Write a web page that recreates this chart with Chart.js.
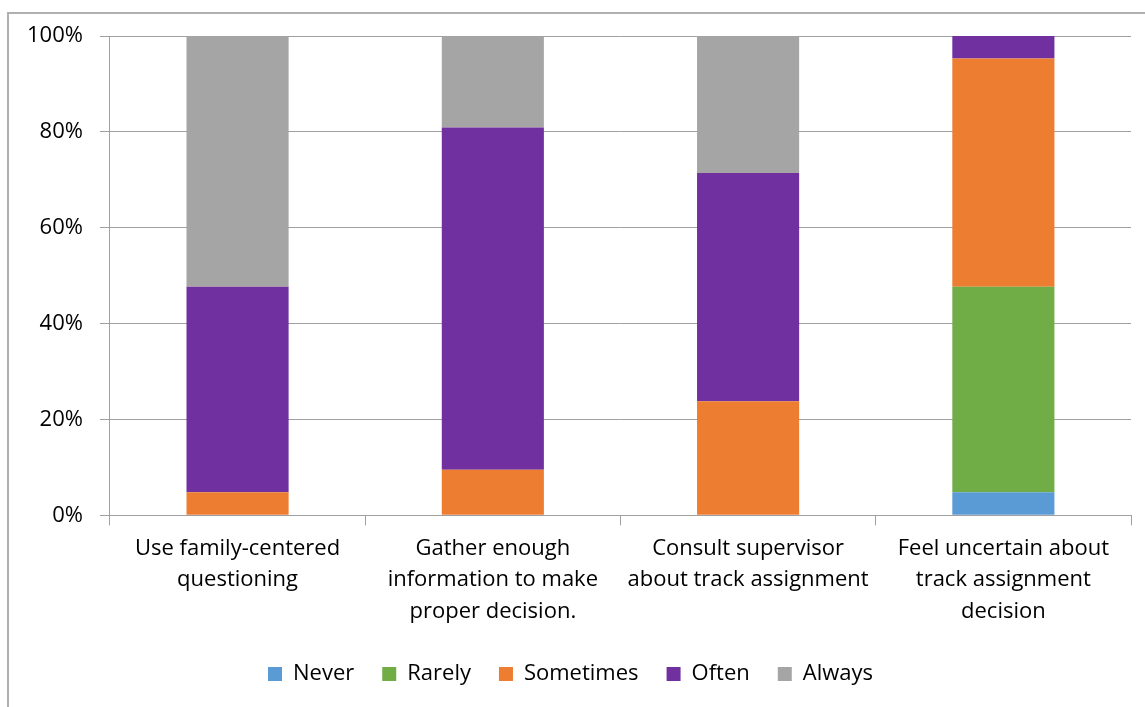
<!DOCTYPE html>
<html>
<head>
<meta charset="utf-8">
<script src="https://cdn.jsdelivr.net/npm/chart.js@4/dist/chart.umd.min.js"></script>
<style>
  body { margin: 0; background: #fff; }
  #frame { position: absolute; left: 7px; top: 12px; width: 1200px; height: 800px;
           border-left: 2px solid #b0b0b0; border-top: 2px solid #b0b0b0; }
  #wrap { position: absolute; left: 0; top: 0; width: 1145px; height: 707px; }
</style>
</head>
<body>
<div id="frame"></div>
<div id="wrap"><canvas id="chart"></canvas></div>
<script>
// =====================
// Data (percent of respondents)
// =====================
const categories = [
    ["Use family-centered", "questioning"],
    ["Gather enough", "information to make", "proper decision."],
    ["Consult supervisor", "about track assignment"],
    ["Feel uncertain about", "track assignment", "decision"]
];
const never     = [0, 0, 0, 4.8];
const rarely    = [0, 0, 0, 42.9];
const sometimes = [4.8, 9.5, 23.8, 47.6];
const often     = [42.9, 71.4, 47.6, 4.8];
const always    = [52.4, 19.0, 28.6, 0];
const yTicks = [0, 20, 40, 60, 80, 100];

const FONT = "'Open Sans', 'Noto Sans', sans-serif";

// =====================
// Chart
// =====================
const ctx = document.getElementById("chart").getContext("2d");
new Chart(ctx, {
    type: "bar",
    data: {
        labels: categories,
        datasets: [
            { label: "Never", data: never, backgroundColor: "#5B9BD5" },
            { label: "Rarely", data: rarely, backgroundColor: "#70AD47" },
            { label: "Sometimes", data: sometimes, backgroundColor: "#ED7D31" },
            { label: "Often", data: often, backgroundColor: "#7030A0" },
            { label: "Always", data: always, backgroundColor: "#A5A5A5" }
        ]
    },
    options: {
        responsive: true,
        maintainAspectRatio: false,
        animation: false,
        layout: { padding: { left: 10, right: 14, top: 36, bottom: 12 } },
        datasets: { bar: { categoryPercentage: 1, barPercentage: 0.4, borderWidth: 0 } },
        plugins: {
            legend: {
                position: "bottom",
                labels: { boxWidth: 14, boxHeight: 14, padding: 28, color: "#000",
                          font: { family: FONT, size: 22 } }
            },
            tooltip: { enabled: false }
        },
        scales: {
            x: {
                stacked: true,
                grid: { drawOnChartArea: false, offset: true, color: "#a0a0a0", tickLength: 10 },
                border: { color: "#a0a0a0" },
                ticks: { color: "#000", maxRotation: 0, padding: 7,
                         font: { family: FONT, size: 22, lineHeight: 1.45 } }
            },
            y: {
                stacked: true,
                min: 0,
                max: 100,
                afterBuildTicks: axis => { axis.ticks = yTicks.map(v => ({ value: v })); },
                grid: { color: "#a0a0a0", tickLength: 10 },
                border: { color: "#a0a0a0" },
                ticks: { color: "#000", padding: 17, callback: v => v + "%",
                         font: { family: FONT, size: 22 } }
            }
        }
    }
});
</script>
</body>
</html>
